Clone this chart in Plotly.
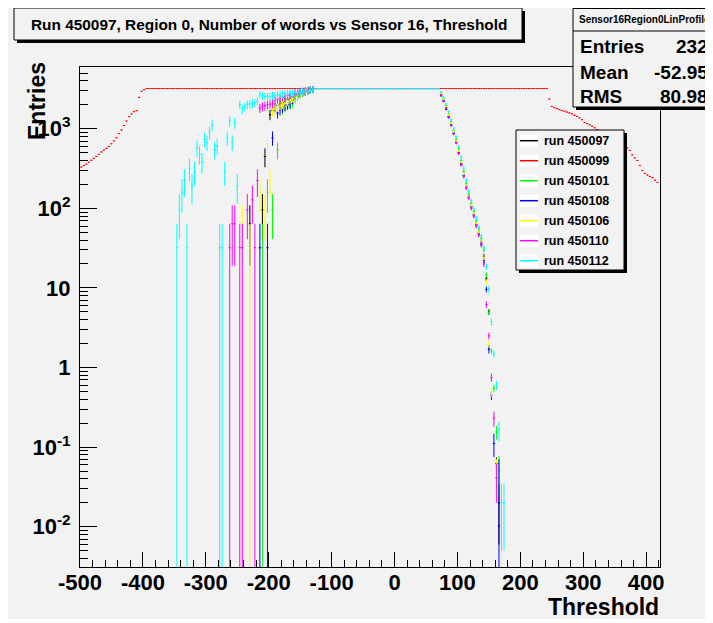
import plotly.graph_objects as go

# The page puts the figure 8px in from the window corner, so the
# figure is sized to the rest of the window and every position below
# is given in window pixels and shifted by OFF.
OFF = 8
W, H = 705, 611
L, R, T, B = 72, 652, 59, 559


def px(x):
    return (x - OFF - L) / (R - L)


def py(y):
    return (B - (y - OFF)) / (B - T)


PLATEAU = 3200
plateau_thr = list(range(-126, 71, 4))
right_thr = list(range(74, 175, 4))

# run 450099 (red) - the wide one
red_left_thr = list(range(-498, -397, 4))
red_left_val = [330, 345, 358, 380, 402, 425, 448, 478, 512, 540, 568, 600, 648,
                705, 770, 870, 965, 1100, 1250, 1420, 1540, 1640, 1690, 2480, 2950, 3100]
red_plateau_thr = list(range(-394, 243, 4))
red_right_thr = list(range(246, 419, 4))
red_right_val = [2370, 1910, 1840, 1790, 1740, 1700, 1660, 1620, 1580, 1540, 1480,
                 1430, 1370, 1300, 1200, 1160, 1120, 1080, 1030, 980, 930, 880, 830,
                 790, 750, 710, 680, 650, 620, 600, 585, 575, 533, 470, 430, 400, 345,
                 300, 275, 262, 252, 243, 225, 212]

# run 450112 (cyan)
cyan_left_thr = list(range(-346, -129, 4))
cyan_left_val = [32, 96, 160, 224, 32, 320, 192, 288, 576, 480, 384, 736, 672, 896,
                 1120, 544, 608, 32, 32, 288, 768, 1248, 672, 1184, 192, 2000, 1760,
                 1888, 2000, 2048, 2080, 2112, 2200, 2680, 2600, 2550, 2560, 2550,
                 2600, 2620, 2650, 2680, 2720, 2760, 2780, 2800, 2810, 2850, 2880,
                 2890, 2940, 2980, 3010, 3060, 3100]
cyan_left_err = [32, 55, 72, 85, 32, 101, 78, 96, 136, 124, 111, 153, 147, 169, 189,
                 132, 139, 32, 32, 96, 157, 200, 147, 195, 78, 253, 237, 246, 253, 256,
                 258, 260, 265, 293, 288, 286, 286, 286, 288, 290, 291, 293, 295, 297,
                 298, 299, 300, 302, 304, 304, 307, 309, 310, 313, 315]
cyan_right_val = [2900, 2500, 2050, 1650, 1300, 1020, 800, 600, 440, 320, 225, 165,
                  125, 98, 76, 58, 45, 32, 18.5, 9.6, 3.77, 1.48, 0.6, 0.164, 0.02, 0.02]
cyan_right_err = [60, 55, 50, 45, 40, 35, 30, 26, 22, 17, 13, 10, 8, 6, 5, 4, 3, 2.5,
                  1.8, 1.0, 0.4, 0.15, 0.08, 0.045, 0.015, 0.015]

# run 450110 (magenta)
mag_left_thr = [-262, -258, -254, -246, -242, -234, -226, -222, -218, -214, -210,
                -206, -202, -198, -194, -190, -186, -182, -178, -174, -170, -166,
                -162, -158, -154, -150, -146, -142, -138, -134, -130]
mag_left_val = [32, 64, 64, 32, 32, 96, 128, 32, 224, 1820, 1900, 1940, 2000, 2030,
                2060, 2270, 2350, 2430, 2500, 2560, 2620, 2700, 2750, 2820, 2880,
                2930, 2980, 3020, 3060, 3100, 3140]
mag_left_err = [32, 45, 45, 32, 32, 55, 64, 32, 85, 241, 247, 249, 253, 255, 257,
                270, 274, 279, 283, 286, 290, 294, 297, 300, 304, 306, 309, 311, 313,
                315, 317]
mag_right_val = [2650, 2250, 1800, 1400, 1100, 860, 660, 490, 350, 250, 180, 135,
                 100, 80, 60, 46, 36, 20, 6.2, 2.5, 0.75, 0.23, 0.041, None, None, None]
mag_right_err = [55, 50, 45, 40, 35, 30, 26, 22, 17, 13, 10, 8, 6, 5, 4, 3, 2.5, 1.8,
                 0.6, 0.25, 0.09, 0.05, 0.021, None, None, None]

# run 450106 (yellow)
yel_left_thr = [-242, -230, -214, -206, -202, -198, -194, -190, -186, -182, -178,
                -174, -170, -166, -162, -158, -154, -150, -146, -142, -138, -134, -130]
yel_left_val = [64, 32, 160, 96, 640, 224, 1650, 1820, 1880, 1940, 2020, 2100, 2200,
                2300, 2430, 2540, 2650, 2750, 2850, 2930, 3000, 3060, 3120]
yel_left_err = [45, 32, 72, 55, 143, 85, 230, 241, 245, 249, 254, 259, 265, 271,
                279, 285, 291, 297, 302, 306, 310, 313, 316]
yel_right_val = [2750, 2350, 1900, 1500, 1180, 920, 700, 520, 380, 270, 190, 140,
                 108, 85, 64, 50, 38, 24, 12, 2.0, 0.5, None, 0.051, None, 0.003, None]
yel_right_err = [57, 52, 47, 42, 37, 32, 27, 23, 18, 13, 10, 8, 6, 5, 4, 3, 2.5, 1.8,
                 1.0, 0.2, 0.07, None, 0.02, None, 0.003, None]

# run 450097 (black)
blk_left_thr = [-230, -210, -206, -198, -194, -190, -186, -182, -178, -174, -170,
                -166, -162, -158, -154, -150, -146, -142, -138, -134, -130]
blk_left_val = [64, 96, 448, 1500, 1700, 1850, 1980, 2060, 2130, 2200, 2320, 2420,
                2520, 2620, 2720, 2800, 2880, 2950, 3020, 3080, 3130]
blk_left_err = [45, 55, 120, 219, 233, 243, 252, 257, 261, 265, 272, 278, 284, 290,
                295, 299, 304, 307, 311, 314, 316]
blk_right_val = [2700, 2280, 1820, 1430, 1120, 880, 680, 500, 365, 262, 188, 140,
                 105, 84, 63, 49, 38, 25, 13, 5.0, None, None, 0.062, 0.020, None, None]
blk_right_err = [56, 51, 46, 41, 36, 31, 27, 23, 17, 13, 10, 8, 6, 5, 4, 3, 2.5, 1.8,
                 1.0, 0.4, None, None, 0.012, 0.014, None, None]

# run 450108 (blue)
blu_left_thr = [-214, -202, -194, -186, -182, -178, -174, -170, -166, -162, -158,
                -154, -150, -146, -142, -138, -134, -130]
blu_left_val = [32, 32, 768, 1575, 1700, 1820, 1930, 2000, 2060, 2300, 2600, 2700,
                2780, 2850, 2920, 3000, 3060, 3120]
blu_left_err = [32, 32, 157, 224, 233, 241, 249, 253, 257, 271, 288, 294, 298, 302,
                306, 310, 313, 316]
blu_right_val = [2600, 2200, 1750, 1380, 1100, 880, 690, 500, 360, 260, 185, 138,
                 105, 82, 62, 48, 35, 22, 9.6, 1.7, 0.45, 0.111, None, 0.0102, None, None]
blu_right_err = [54, 49, 44, 39, 35, 30, 26, 22, 17, 13, 10, 8, 6, 5, 4, 3, 2.5, 1.8,
                 0.8, 0.2, 0.06, 0.036, None, 0.06, None, None]

# run 450101 (green)
grn_left_thr = [-210, -202, -194, -186, -178, -174, -170, -166, -162, -158, -154,
                -150, -146, -142, -138, -134, -130]
grn_left_val = [32, 160, 96, 544, 1730, 1850, 1960, 2000, 2060, 2350, 2550, 2680,
                2800, 2900, 2980, 3060, 3120]
grn_left_err = [32, 72, 55, 132, 235, 243, 250, 253, 257, 274, 286, 293, 299, 305,
                309, 313, 316]
grn_right_val = [2800, 2400, 1950, 1550, 1220, 950, 740, 560, 400, 290, 205, 150,
                 115, 92, 70, 55, 42, 30, 14.6, 4.9, 1.63, 0.55, 0.155, 0.051, None, None]
grn_right_err = [58, 53, 48, 43, 38, 33, 28, 24, 19, 14, 10, 8, 6, 5, 4, 3, 2.5, 2.0,
                 1.0, 0.35, 0.12, 0.06, 0.03, 0.027, None, None]

x_ticks = [-500, -400, -300, -200, -100, 0, 100, 200, 300, 400]
x_ticktext = ["-500", "-400", "-300", "-200", "-100", "0", "100", "200", "300", "400"]
y_ticks = [0.01, 0.1, 1, 10, 100, 1000]
y_ticktext = ["10<sup>-2</sup>", "10<sup>-1</sup>", "1", "10", "10<sup>2</sup>", "10<sup>3</sup>"]

BG = "#f2f2f2"
FONT = "Liberation Sans"


def series(left_thr, left_val, left_err, right_val, right_err):
    n = len(plateau_thr)
    x = left_thr + plateau_thr + right_thr
    y = left_val + [PLATEAU] * n + right_val
    e = left_err + [0] * n + right_err
    return x, y, e


runs = [
    ("run 450097", "#000000", series(blk_left_thr, blk_left_val, blk_left_err, blk_right_val, blk_right_err)),
    ("run 450099", "#ff0000", (red_left_thr + red_plateau_thr + red_right_thr,
                               red_left_val + [PLATEAU] * len(red_plateau_thr) + red_right_val,
                               None)),
    ("run 450101", "#00ff00", series(grn_left_thr, grn_left_val, grn_left_err, grn_right_val, grn_right_err)),
    ("run 450108", "#0000ff", series(blu_left_thr, blu_left_val, blu_left_err, blu_right_val, blu_right_err)),
    ("run 450106", "#ffff00", series(yel_left_thr, yel_left_val, yel_left_err, yel_right_val, yel_right_err)),
    ("run 450110", "#ff00ff", series(mag_left_thr, mag_left_val, mag_left_err, mag_right_val, mag_right_err)),
    ("run 450112", "#00ffff", series(cyan_left_thr, cyan_left_val, cyan_left_err, cyan_right_val, cyan_right_err)),
]

fig = go.Figure()

for name, color, (x, y, e) in runs:
    err_y = dict(type="data", array=e, color=color, thickness=1, width=0) if e else dict(visible=False)
    fig.add_trace(go.Scatter(
        x=x, y=y, mode="markers", name=name, showlegend=False,
        marker=dict(color=color, size=1, symbol="square"),
        error_x=dict(type="constant", value=1.8, color=color, thickness=1, width=0),
        error_y=err_y,
        hoverinfo="x+y+name",
    ))


def box(x0, y0, x1, y1, fill, line_color="black", width=1):
    return dict(type="rect", xref="paper", yref="paper",
                x0=px(x0), x1=px(x1), y0=py(y1), y1=py(y0),
                fillcolor=fill, line=dict(color=line_color, width=width), layer="above")


shapes = [
    # title box + shadow
    box(17, 11, 525, 43, "black", width=0),
    box(14, 8, 522, 40, BG),
    # stats box + shadow
    box(576, 11, 740, 110, "black", width=0),
    box(573, 8.5, 740, 107, BG),
    dict(type="line", xref="paper", yref="paper", x0=px(573), x1=px(740), y0=py(31), y1=py(31),
         line=dict(color="black", width=1), layer="above"),
    # legend box + shadow (ROOT TLegend look)
    box(519, 133, 627, 273, "black", width=0),
    box(516, 130, 624, 270, BG),
]

annotations = [
    dict(text="<b>Run 450097, Region 0, Number of words vs Sensor 16, Threshold</b>",
         x=px(269), y=py(25), xref="paper", yref="paper", showarrow=False,
         xanchor="center", yanchor="middle", font=dict(family=FONT, size=15.4, color="black")),
    dict(text="<b>Sensor16Region0LinProfile</b>", x=px(577), y=py(20), xref="paper", yref="paper",
         showarrow=False, xanchor="left", yanchor="middle", font=dict(family=FONT, size=10, color="black")),
    dict(text="<b>Entries</b>", x=px(578), y=py(47), xref="paper", yref="paper", showarrow=False,
         xanchor="left", yanchor="middle", font=dict(family=FONT, size=19, color="black")),
    dict(text="<b>232</b>", x=px(710), y=py(47), xref="paper", yref="paper", showarrow=False,
         xanchor="right", yanchor="middle", font=dict(family=FONT, size=19, color="black")),
    dict(text="<b>Mean</b>", x=px(578), y=py(72), xref="paper", yref="paper", showarrow=False,
         xanchor="left", yanchor="middle", font=dict(family=FONT, size=19, color="black")),
    dict(text="<b>-52.95</b>", x=px(710), y=py(72), xref="paper", yref="paper", showarrow=False,
         xanchor="right", yanchor="middle", font=dict(family=FONT, size=19, color="black")),
    dict(text="<b>RMS</b>", x=px(578), y=py(96), xref="paper", yref="paper", showarrow=False,
         xanchor="left", yanchor="middle", font=dict(family=FONT, size=19, color="black")),
    dict(text="<b>80.98</b>", x=px(710), y=py(96), xref="paper", yref="paper", showarrow=False,
         xanchor="right", yanchor="middle", font=dict(family=FONT, size=19, color="black")),
    # axis titles, ROOT style (aligned to the axis end)
    dict(text="<b>Entries</b>", x=px(37), y=py(101), xref="paper", yref="paper", showarrow=False,
         textangle=-90, xanchor="center", yanchor="middle", font=dict(family=FONT, size=23, color="black")),
    dict(text="<b>Threshold</b>", x=px(661), y=py(607), xref="paper", yref="paper", showarrow=False,
         xanchor="right", yanchor="middle", font=dict(family=FONT, size=23, color="black")),
]

# legend rows: white patch, coloured line sample, bold label
for i, (name, color, _) in enumerate(runs):
    yc = 140.7 + 20 * i
    shapes.append(box(520, yc - 6, 538, yc + 6, "white", width=0))
    shapes.append(dict(type="line", xref="paper", yref="paper",
                       x0=px(520), x1=px(538), y0=py(yc), y1=py(yc),
                       line=dict(color=color, width=1.5), layer="above"))
    annotations.append(dict(text="<b>%s</b>" % name, x=px(542), y=py(yc), xref="paper", yref="paper",
                            showarrow=False, xanchor="left", yanchor="middle",
                            font=dict(family=FONT, size=12.5, color="black")))

fig.update_layout(
    width=W, height=H,
    margin=dict(l=L, r=W - R, t=T, b=H - B, pad=0),
    paper_bgcolor=BG, plot_bgcolor=BG,
    font=dict(family=FONT, color="black"),
    shapes=shapes, annotations=annotations,
    showlegend=False,
)

fig.update_xaxes(
    range=[-500, 422], showgrid=False, zeroline=False,
    showline=True, linecolor="black", linewidth=1, mirror=True,
    ticks="inside", ticklen=15, tickcolor="black", tickwidth=1,
    tickmode="array", tickvals=x_ticks, ticktext=x_ticktext, ticklabelstandoff=-4,
    tickfont=dict(family=FONT, size=22, color="black", weight="bold"),
    minor=dict(ticks="inside", ticklen=7, tick0=0, dtick=20, tickcolor="black", showgrid=False),
)
fig.update_yaxes(
    type="log", range=[-2.506, 3.776], showgrid=False, zeroline=False,
    showline=True, linecolor="black", linewidth=1, mirror=True,
    ticks="inside", ticklen=17, tickcolor="black", tickwidth=1,
    tickmode="array", tickvals=y_ticks, ticktext=y_ticktext, ticklabelstandoff=4,
    tickfont=dict(family=FONT, size=22, color="black", weight="bold"),
    minor=dict(ticks="inside", ticklen=8, dtick="D1", tickcolor="black", showgrid=False),
)

fig.write_html("out.html")
